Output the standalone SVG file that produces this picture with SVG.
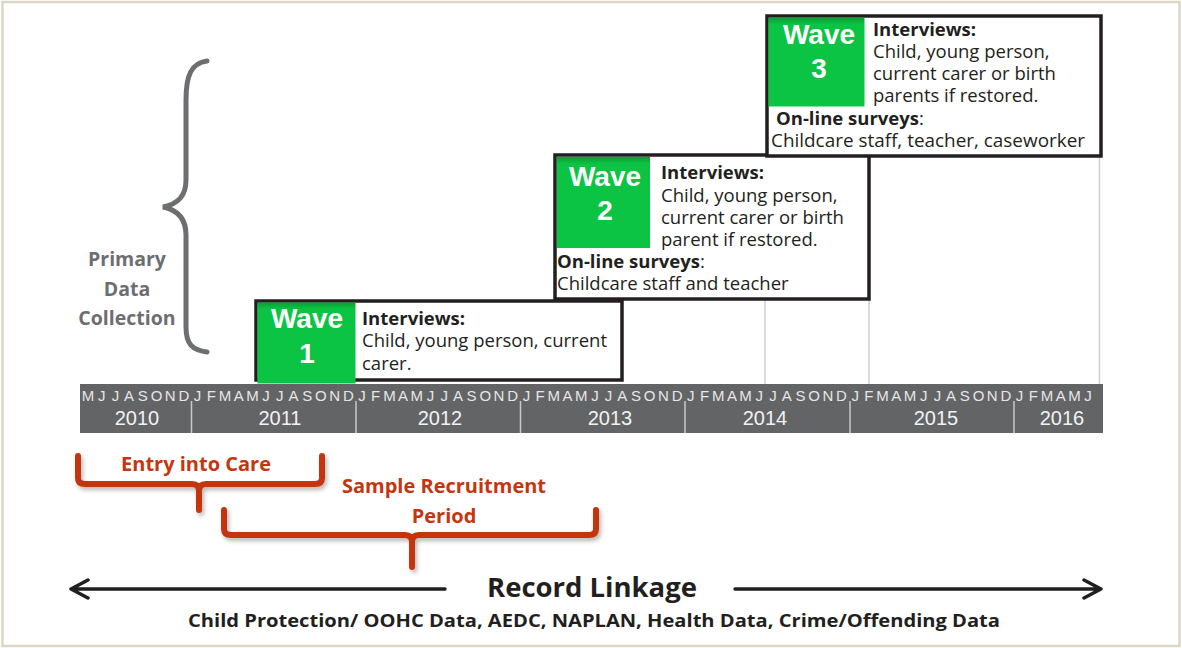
<svg xmlns="http://www.w3.org/2000/svg" width="1182" height="648" viewBox="0 0 1182 648">
<defs>
<style>
.box{fill:#ffffff;stroke:#231f20;stroke-width:3.5}
.green{fill:url(#gg)}
.wave{font-family:"Liberation Sans",Arial,sans-serif;font-weight:bold;font-size:28px;fill:#ffffff;text-anchor:middle}
.body{font-family:"Open Sans","Noto Sans",sans-serif;font-size:18.5px;fill:#231f20}
.b{font-weight:bold}
.month{font-family:"Liberation Sans",Arial,sans-serif;font-size:15px;fill:#e6e6e6;text-anchor:middle}
.year{font-family:"Liberation Sans",Arial,sans-serif;font-size:20px;fill:#f2f2f2;text-anchor:middle}
.div{stroke:#c9c9c9;stroke-width:1.5}
.guide{stroke:#cfcfcf;stroke-width:1.5}
.grey{font-family:"Open Sans","Noto Sans",sans-serif;font-weight:bold;font-size:19.5px;fill:#6d6e71;text-anchor:middle}
.red{font-family:"Open Sans","Noto Sans",sans-serif;font-weight:bold;font-size:20px;fill:#c4360f;text-anchor:middle}
.redbr{fill:none;stroke:#c4360f;stroke-width:6;stroke-linecap:round;stroke-linejoin:round;filter:url(#sh)}
.arrow{fill:none;stroke:#231f20;stroke-width:3.5;stroke-linecap:round;stroke-linejoin:round}
.dark{font-family:"Open Sans","Noto Sans",sans-serif;font-weight:bold;fill:#231f20;text-anchor:middle}
</style>
<linearGradient id="gg" x1="0" y1="0" x2="0" y2="1">
<stop offset="0" stop-color="#0a9e36"/>
<stop offset="0.08" stop-color="#0cc443"/>
<stop offset="1" stop-color="#0cc443"/>
</linearGradient>
<filter id="sh" x="-10%" y="-30%" width="120%" height="160%">
<feDropShadow dx="2" dy="3" stdDeviation="2" flood-color="#000000" flood-opacity="0.28"/>
</filter>
</defs>
<rect x="0" y="0" width="1182" height="648" fill="#ffffff"/>
<rect x="2.5" y="2" width="1177" height="644" fill="none" stroke="#ddd6c3" stroke-width="2.5"/>

<g id="connectors">
<line class="guide" x1="765" y1="299" x2="765" y2="384"/>
<line class="guide" x1="869" y1="299" x2="869" y2="384"/>
<line class="guide" x1="1099.5" y1="156" x2="1099.5" y2="384"/>
<path class="arrow" d="M445,589 L72,589 M88,580 L71,589 L88,598"/>
<path class="arrow" d="M735,589 L1100,589 M1084,580 L1101,589 L1084,598"/>
</g>

<g id="timeline">
<rect x="80" y="384" width="1023" height="49" fill="#636466"/>
<line class="div" x1="191.5" y1="401" x2="191.5" y2="433"/>
<line class="div" x1="356" y1="401" x2="356" y2="433"/>
<line class="div" x1="520.5" y1="401" x2="520.5" y2="433"/>
<line class="div" x1="685" y1="401" x2="685" y2="433"/>
<line class="div" x1="850" y1="401" x2="850" y2="433"/>
<line class="div" x1="1014" y1="401" x2="1014" y2="433"/>
<text class="month" y="400.5" x="88 101.7 115.4 129.1 142.8 156.5 170.2 183.9 197.6 211.3 225 238.7 252.4 266.1 279.8 293.5 307.2 320.9 334.6 348.3 362 375.7 389.4 403.1 416.8 430.5 444.2 457.9 471.6 485.3 499 512.7 526.4 540.1 553.8 567.5 581.2 594.9 608.6 622.3 636 649.7 663.4 677.1 690.8 704.5 718.2 731.9 745.6 759.3 773 786.7 800.4 814.1 827.8 841.5 855.2 868.9 882.6 896.3 910 923.7 937.4 951.1 964.8 978.5 992.2 1005.9 1019.6 1033.3 1047 1060.7 1074.4 1088.1">MJJASONDJFMAMJJASONDJFMAMJJASONDJFMAMJJASONDJFMAMJJASONDJFMAMJJASONDJFMAMJ</text>
<text class="year" x="137" y="425">2010</text>
<text class="year" x="280" y="425">2011</text>
<text class="year" x="440" y="425">2012</text>
<text class="year" x="610" y="425">2013</text>
<text class="year" x="765" y="425">2014</text>
<text class="year" x="936" y="425">2015</text>
<text class="year" x="1062" y="425">2016</text>
</g>

<g id="primary-data-collection">
<path d="M207,61 C191,63 186,76 186,100 L186,180 C186,196 178,204 163,207 C178,210 186,219 186,235 L186,327 C186,344 192,350 207,352" fill="none" stroke="#6d6e71" stroke-width="5" stroke-linecap="round"/>
<text class="grey" x="127" y="266">Primary</text>
<text class="grey" x="127" y="296">Data</text>
<text class="grey" x="127" y="325">Collection</text>
</g>

<g id="wave2">
<rect class="box" x="555" y="155" width="314" height="144"/>
<rect class="green" x="557" y="157" width="93" height="91"/>
<text class="wave" x="605" y="186">Wave</text>
<text class="wave" x="605" y="220">2</text>
<text class="body" x="661" y="179"><tspan class="b">Interviews:</tspan></text>
<text class="body" x="661" y="202">Child, young person,</text>
<text class="body" x="661" y="224">current carer or birth</text>
<text class="body" x="661" y="246">parent if restored.</text>
<text class="body" x="557" y="268"><tspan class="b">On-line surveys</tspan>:</text>
<text class="body" x="557" y="290">Childcare staff and teacher</text>
</g>

<g id="wave3">
<rect class="box" x="767" y="16" width="334" height="140"/>
<rect class="green" x="768.5" y="17.5" width="96" height="89"/>
<text class="wave" x="819" y="44">Wave</text>
<text class="wave" x="819" y="78">3</text>
<text class="body" x="873" y="36"><tspan class="b">Interviews:</tspan></text>
<text class="body" x="873" y="58">Child, young person,</text>
<text class="body" x="873" y="80">current carer or birth</text>
<text class="body" x="873" y="102">parents if restored.</text>
<text class="body" x="776" y="125"><tspan class="b">On-line surveys</tspan>:</text>
<text class="body" x="771" y="147" textLength="314" lengthAdjust="spacingAndGlyphs">Childcare staff, teacher, caseworker</text>
</g>

<g id="wave1">
<rect class="box" x="256" y="301" width="366" height="79"/>
<rect class="green" x="257.5" y="302.5" width="98" height="81"/>
<text class="wave" x="307" y="328">Wave</text>
<text class="wave" x="307" y="363">1</text>
<text class="body" x="362" y="325"><tspan class="b">Interviews:</tspan></text>
<text class="body" x="362" y="347">Child, young person, current</text>
<text class="body" x="362" y="370">carer.</text>
</g>

<g id="entry-into-care">
<path class="redbr" d="M78,456 L78,478 Q78,484 85,484 L192,484 Q199,484 199,491 L199,510 M199,491 Q199,484 206,484 L315,484 Q322,484 322,478 L322,456"/>
<text class="red" x="196" y="471">Entry into Care</text>
</g>

<g id="sample-recruitment-period">
<path class="redbr" d="M224,510 L224,529 Q224,535 231,535 L405,535 Q412,535 412,542 L412,567 M412,542 Q412,535 419,535 L589,535 Q596,535 596,529 L596,510"/>
<text class="red" x="444" y="493">Sample Recruitment</text>
<text class="red" x="444" y="523">Period</text>
</g>

<g id="record-linkage">
<text class="dark" x="592" y="597" font-size="26" textLength="210" lengthAdjust="spacingAndGlyphs">Record Linkage</text>
<text class="dark" x="594" y="627" font-size="17" textLength="812" lengthAdjust="spacingAndGlyphs">Child Protection/ OOHC Data, AEDC, NAPLAN, Health Data, Crime/Offending Data</text>
</g>
</svg>
